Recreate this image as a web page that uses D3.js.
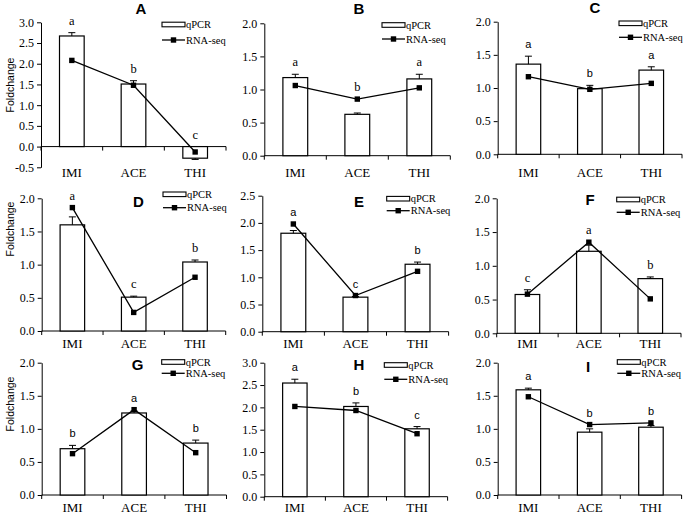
<!DOCTYPE html>
<html><head><meta charset="utf-8">
<script src="https://cdn.jsdelivr.net/npm/d3@7"></script>
<style>body{margin:0;background:#fff}svg{display:block}</style>
</head><body><svg id="c" width="685" height="515"></svg>
<script>
// ---------- data ----------
const panels = ["A","B","C","D","E","F","G","H","I"];
const categories = ["IMI","ACE","THI"];
const qpcrValues = [[2.67,1.51,-0.28],[1.18,0.625,1.16],[1.36,0.99,1.27],[1.60,0.51,1.04],[1.81,0.635,1.24],[0.575,1.215,0.81],[0.70,1.24,0.785],[2.545,2.02,1.52],[1.59,0.95,1.025]];
const qpcrErrors = [[0.08,0.08,0.03],[0.05,0.02,0.07],[0.12,0.05,0.05],[0.12,0.015,0.03],[0.05,0.012,0.04],[0.07,0.09,0.025],[0.05,0.03,0.045],[0.085,0.08,0.05],[0.025,0.05,0.025]];
const rnaValues = [[2.08,1.48,-0.13],[1.06,0.855,1.025],[1.17,0.98,1.07],[1.86,0.28,0.81],[1.98,0.665,1.11],[0.58,1.35,0.51],[0.625,1.29,0.64],[2.02,1.93,1.41],[1.485,1.065,1.09]];
const letters = [["a","b","c"],["a","b","a"],["a","b","a"],["a","c","b"],["a","c","b"],["c","a","b"],["b","a","b"],["a","b","c"],["a","b","b"]];
const yTickValues = [
  [-0.5,0,0.5,1,1.5,2,2.5,3],
  [0,0.5,1,1.5,2],[0,0.5,1,1.5,2],[0,0.5,1,1.5,2],
  [0,0.5,1,1.5,2,2.5],[0,0.5,1,1.5,2],[0,0.5,1,1.5,2],
  [0,0.5,1,1.5,2,2.5,3],[0,0.5,1,1.5,2]
];
const legendLabels = ["qPCR","RNA-seq"];
const yAxisTitle = "Foldchange";

// ---------- layout (positions / styles) ----------
const layout = [
  {l:41,   r:226,   t:22.3,  b:167.3, tx:141, ty:13.5,  lx:162,   ly:24.5,  lg:15.5, cy:177,   lf:"serif"},
  {l:264.3,r:450.3, t:23.3,  b:155.7, tx:359, ty:13.5,  lx:382,   ly:25,    lg:14,   cy:177,   lf:"serif"},
  {l:497.7,r:682,   t:21.7,  b:154.3, tx:595, ty:13,    lx:619,   ly:23.3,  lg:14,   cy:177,   lf:"sans"},
  {l:41.7, r:225.7, t:198.3, b:331,   tx:138.3,ty:206.7,lx:163,   ly:194.3, lg:13.4, cy:348,   lf:"serif"},
  {l:262.3,r:448.6, t:195.7, b:331.7, tx:359, ty:206.7, lx:386.7, ly:198.7, lg:12,   cy:348,   lf:"sans"},
  {l:496.7,r:681,   t:198.3, b:333.3, tx:590, ty:204.5, lx:616.7, ly:199.5, lg:12.8, cy:348,   lf:"serif"},
  {l:41.7, r:226.5, t:362.7, b:495,   tx:137.5,ty:369.5,lx:161.7, ly:362,   lg:11.3, cy:511.5, lf:"sans"},
  {l:264.3,r:447.6, t:362.7, b:496.7, tx:359, ty:369.5, lx:384.3, ly:365,   lg:14.3, cy:511.5, lf:"sans"},
  {l:497.7,r:681.6, t:362.7, b:495,   tx:588, ty:371.7, lx:617.3, ly:362,   lg:11.3, cy:511.5, lf:"sans"}
];
const yTitlePos = [{x:13.5,y:85},{x:13.5,y:229},{x:13.5,y:404}];

const SERIF = "'Liberation Serif','Times New Roman',serif";
const SANS = "'Liberation Sans',Arial,sans-serif";

const svg = d3.select("#c");

panels.forEach((name, i) => {
  const L = layout[i];
  const ticks = yTickValues[i];
  const y = d3.scaleLinear().domain([ticks[0], ticks[ticks.length-1]]).range([L.b, L.t]);
  const x = d3.scaleBand().domain(categories).range([L.l, L.r]).paddingInner(0.6).paddingOuter(0.3);
  const g = svg.append("g");

  // y axis
  const ya = g.append("g").attr("transform", `translate(${L.l},0)`)
    .call(d3.axisLeft(y).tickValues(ticks).tickFormat(d => d.toFixed(1)).tickSize(4).tickSizeOuter(0).tickPadding(3));
  ya.selectAll("path,line").attr("stroke","#000").attr("stroke-width",1);
  ya.selectAll("text").attr("font-family",SERIF).attr("font-size",12).attr("fill","#000");

  // x axis line at 0 + boundary ticks
  const y0 = y(0);
  g.append("line").attr("x1",L.l).attr("x2",L.r).attr("y1",y0).attr("y2",y0).attr("stroke","#000");
  const step = x.step();
  d3.range(4).forEach(k => {
    const xx = L.l + k*step;
    g.append("line").attr("x1",xx).attr("x2",xx).attr("y1",y0).attr("y2",y0+4).attr("stroke","#000");
  });
  // category labels
  g.selectAll("text.cat").data(categories).join("text")
    .attr("x", d => x(d) + x.bandwidth()/2).attr("y", L.cy)
    .attr("text-anchor","middle").attr("font-family",SERIF).attr("font-size",13)
    .text(d => d);

  // bars
  const q = qpcrValues[i], e = qpcrErrors[i], r = rnaValues[i];
  categories.forEach((c, k) => {
    const v = q[k];
    const cx = x(c) + x.bandwidth()/2;
    g.append("rect").attr("x", x(c)).attr("width", x.bandwidth())
      .attr("y", y(Math.max(0,v))).attr("height", Math.abs(y(v)-y(0)))
      .attr("fill","#fff").attr("stroke","#000").attr("stroke-width",1.2);
    const tip = v >= 0 ? v + e[k] : v - e[k];
    g.append("line").attr("x1",cx).attr("x2",cx).attr("y1",y(v)).attr("y2",y(tip)).attr("stroke","#000");
    g.append("line").attr("x1",cx-3.5).attr("x2",cx+3.5).attr("y1",y(tip)).attr("y2",y(tip)).attr("stroke","#000");
    // significance letter
    const top = Math.min(y(Math.max(0,tip)), y(r[k]), y(0), y(v));
    g.append("text").attr("x",cx).attr("y", top - 8).attr("text-anchor","middle")
      .attr("font-family", L.lf === "serif" ? SERIF : SANS).attr("font-size", L.lf === "serif" ? 12.5 : 11)
      .text(letters[i][k]);
  });

  // RNA-seq line
  const line = d3.line().x((d,k) => x(categories[k]) + x.bandwidth()/2).y(d => y(d));
  g.append("path").datum(r).attr("d", line).attr("fill","none").attr("stroke","#000").attr("stroke-width",1.3);
  g.selectAll("rect.m").data(r).join("rect")
    .attr("x",(d,k) => x(categories[k]) + x.bandwidth()/2 - 2.7).attr("y", d => y(d) - 2.7)
    .attr("width",5.4).attr("height",5.4).attr("fill","#000");

  // title
  g.append("text").attr("x",L.tx).attr("y",L.ty).attr("text-anchor","middle")
    .attr("font-family",SANS).attr("font-weight","bold").attr("font-size",15).text(name);

  // legend
  g.append("rect").attr("x",L.lx).attr("y",L.ly-2.3).attr("width",23).attr("height",4.6)
    .attr("fill","#fff").attr("stroke","#000").attr("stroke-width",1.1);
  g.append("text").attr("x",L.lx+24).attr("y",L.ly+3.5).attr("font-family",SERIF).attr("font-size",10.5).text(legendLabels[0]);
  const ry = L.ly + L.lg;
  g.append("line").attr("x1",L.lx).attr("x2",L.lx+23).attr("y1",ry).attr("y2",ry).attr("stroke","#000").attr("stroke-width",1.3);
  g.append("rect").attr("x",L.lx+11.5-2.7).attr("y",ry-2.7).attr("width",5.4).attr("height",5.4).attr("fill","#000");
  g.append("text").attr("x",L.lx+24).attr("y",ry+3.5).attr("font-family",SERIF).attr("font-size",10.5).text(legendLabels[1]);
});

// y-axis titles
yTitlePos.forEach(p => {
  svg.append("text").attr("transform",`translate(${p.x},${p.y}) rotate(-90)`)
    .attr("text-anchor","middle").attr("font-family",SANS).attr("font-size",10.5).text(yAxisTitle);
});
</script>
</body></html>
